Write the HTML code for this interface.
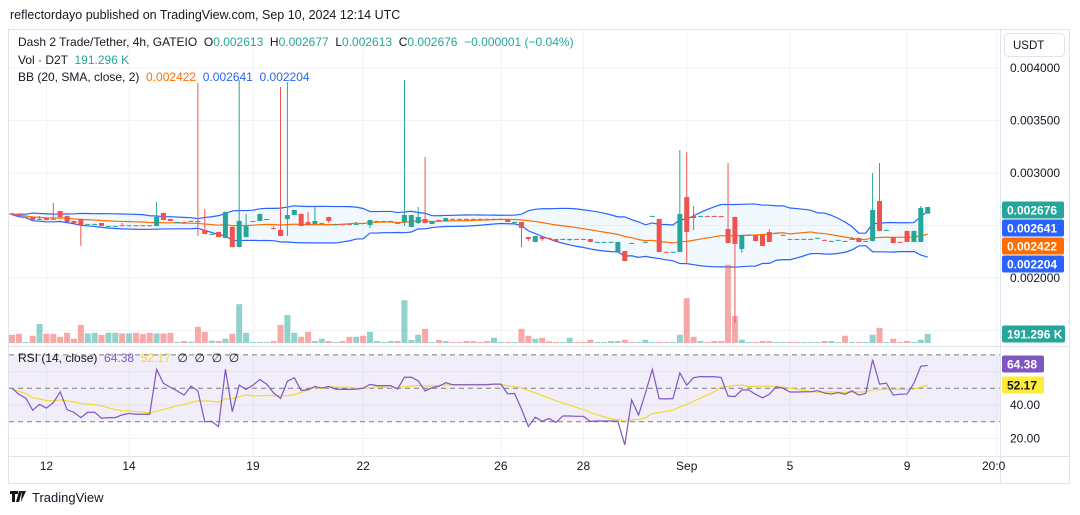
<!DOCTYPE html>
<html><head><meta charset="utf-8"><style>
html,body{margin:0;padding:0;background:#fff;width:1080px;height:515px;overflow:hidden}
svg{display:block;font-family:"Liberation Sans",sans-serif}
.pre{white-space:pre}
</style></head><body>
<svg id="chart" width="1080" height="515" viewBox="0 0 1080 515">
<rect x="0" y="0" width="1080" height="515" fill="#fff"/>
<text x="10" y="19" font-size="12.5" fill="#131722">reflectordayo published on TradingView.com, Sep 10, 2024 12:14 UTC</text>
<rect x="8.5" y="29.5" width="1061" height="454" fill="#fff" stroke="#e0e3eb"/>
<g id="grid"></g>
<g id="main"></g>
<g id="rsi"></g>
<line x1="1000.5" y1="30" x2="1000.5" y2="483" stroke="#e0e3eb"/>
<line x1="9" y1="346.5" x2="1069" y2="346.5" stroke="#e0e3eb"/>
<line x1="9" y1="456.5" x2="1069" y2="456.5" stroke="#e0e3eb"/>
<g id="axes" font-size="12" fill="#131722"></g>
<g font-size="12">
<text class="pre" x="18" y="46" fill="#131722">Dash 2 Trade/Tether, 4h, GATEIO  O<tspan fill="#26a69a">0.002613</tspan>  H<tspan fill="#26a69a">0.002677</tspan>  L<tspan fill="#26a69a">0.002613</tspan>  C<tspan fill="#26a69a">0.002676</tspan>  <tspan fill="#26a69a">−0.000001 (−0.04%)</tspan></text>
<text class="pre" x="18" y="64" fill="#131722">Vol · D2T  <tspan fill="#26a69a">191.296 K</tspan></text>
<text class="pre" x="18" y="81" fill="#131722">BB (20, SMA, close, 2)  <tspan fill="#ff6d00">0.002422</tspan>  <tspan fill="#2962ff">0.002641</tspan>  <tspan fill="#2962ff">0.002204</tspan></text>
<text class="pre" x="18" y="362" fill="#131722">RSI (14, close)  <tspan fill="#7e57c2">64.38</tspan>  <tspan fill="#f2d930">52.17</tspan>  ∅  ∅  ∅  ∅</text>
</g>
<g>
<rect x="1004.5" y="33.5" width="60" height="23" rx="4" fill="#fff" stroke="#e0e3eb"/>
<text x="1013" y="49" font-size="11.5" fill="#131722">USDT</text>
</g>
<g>
<path d="M10 491h8v3h-3v8h-3v-8h-2z M19 491h3l-3 11h-3z M22 491h4l-5 11z" fill="#131722"/>
<text x="32" y="502" font-size="13" fill="#131722">TradingView</text>
</g>
</svg>
<script>
// ---- data (prices in 1e-6 USDT) ----
const opens  = [2617,2610,2580,2581,2560,2571,2563,2638,2590,2543,2562,2513,2513,2524,2494,2494,2502,2500,2502,2502,2502,2495,2619,2562,2532,2533,2542,2543,2457,2418,2438,2381,2486,2295,2390,2541,2543,2560,2476,2457,2562,2600,2610,2533,2514,2523,2581,2513,2515,2515,2513,2524,2505,2541,2541,2541,2525,2533,2486,2524,2562,2514,2553,2543,2563,2563,2563,2563,2563,2563,2561,2561,2562,2532,2533,2390,2343,2390,2382,2371,2370,2370,2372,2372,2371,2342,2342,2342,2248,2257,2334,2199,2342,2589,2562,2249,2247,2248,2771,2590,2589,2591,2591,2590,2467,2581,2276,2409,2410,2410,2438,2428,2409,2372,2372,2370,2370,2380,2363,2351,2361,2353,2370,2381,2351,2352,2733,2456,2390,2344,2448,2343,2343,2613];
const highs  = [2620,2612,2583,2583,2590,2573,2714,2640,2592,2545,2565,2516,2516,2526,2497,2497,2524,2503,2503,2503,2503,2724,2621,2564,2535,2535,2545,3857,2657,2421,2440,2631,2488,3886,2610,2545,2612,2564,2495,3819,3867,2650,2612,2629,2676,2526,2583,2516,2517,2517,2533,2526,2555,2545,2545,2545,2533,3886,2602,2676,3152,2545,2556,2573,2566,2566,2566,2566,2566,2566,2565,2565,2564,2536,2535,2392,2402,2392,2384,2373,2374,2374,2374,2374,2373,2346,2346,2346,2345,2259,2336,2203,2346,2593,2564,2251,2251,3219,3200,2686,2593,2593,2593,2592,3095,2583,2412,2413,2412,2412,2467,2432,2413,2374,2374,2374,2374,2384,2365,2355,2365,2355,2390,2383,2355,3000,3095,2460,2392,2346,2450,2450,2686,2677];
const lows   = [2600,2588,2579,2550,2559,2550,2560,2579,2531,2522,2305,2511,2511,2493,2493,2493,2499,2499,2499,2499,2499,2493,2550,2541,2531,2522,2541,2400,2417,2417,2388,2379,2293,2293,2388,2540,2541,2559,2465,2398,2400,2598,2493,2503,2512,2522,2524,2512,2512,2512,2512,2521,2476,2540,2540,2540,2521,2495,2484,2514,2520,2512,2550,2541,2560,2560,2560,2560,2560,2560,2560,2560,2531,2531,2295,2352,2341,2355,2379,2350,2369,2352,2369,2369,2341,2341,2341,2341,2246,2160,2331,2198,2341,2588,2246,2246,2246,2246,2133,2457,2588,2588,2588,2579,2331,1571,2238,2408,2350,2303,2341,2427,2408,2369,2369,2369,2369,2379,2355,2350,2360,2350,2369,2341,2350,2350,2446,2455,2331,2341,2341,2341,2341,2613];
const closes = [2602,2590,2582,2552,2562,2552,2561,2581,2533,2524,2505,2515,2515,2495,2496,2496,2500,2502,2500,2500,2500,2581,2552,2543,2534,2524,2544,2533,2419,2420,2390,2629,2295,2543,2495,2543,2610,2562,2467,2400,2600,2648,2495,2505,2543,2525,2543,2515,2513,2513,2515,2522,2552,2543,2543,2543,2523,2600,2600,2581,2524,2543,2551,2571,2561,2561,2561,2561,2561,2561,2563,2563,2533,2534,2476,2371,2400,2371,2380,2352,2372,2372,2370,2370,2343,2344,2344,2344,2343,2162,2332,2201,2344,2591,2248,2247,2249,2610,2438,2571,2591,2589,2589,2581,2333,2324,2410,2411,2352,2305,2343,2430,2411,2370,2370,2372,2372,2382,2361,2353,2363,2351,2372,2343,2353,2648,2448,2458,2333,2342,2343,2448,2667,2676];
const volumes = [175,196,21,154,406,196,196,133,217,91,385,203,217,175,217,217,203,203,217,189,217,203,203,217,21,42,28,343,238,49,42,91,196,826,217,21,21,21,42,385,595,217,133,238,42,91,42,21,42,133,133,154,238,42,21,42,42,910,63,175,301,21,63,42,21,21,42,42,21,42,112,21,21,21,301,154,91,112,35,21,21,112,21,21,70,21,21,42,42,70,21,21,70,21,21,21,21,175,952,133,42,21,42,42,1666,574,70,21,21,42,42,21,21,21,21,21,21,21,42,42,21,154,21,21,21,175,322,21,91,21,42,21,70,191.296];
const priceTicks = [2000,3000,3500,4000];
const priceTickLabels = ["0.002000","0.003000","0.003500","0.004000"];
const rsiTicks = [20,40];
const rsiTickLabels = ["20.00","40.00"];
const timeTickIdx = [5,17,35,51,71,83,98,113,130];
const timeTickLabels = ["12","14","19","22","26","28","Sep","5","9"];

// ---- scales ----
const NS='http://www.w3.org/2000/svg';
function xOf(i){return 12+i*6.885;}
function yP(p){return 278-(p-2000)*0.105;}
function yV(v){return 343-v*0.047;}
function yR(r){return 388.3-(r-50)*1.67;}
function mk(tag,attrs,parent){const e=document.createElementNS(NS,tag);for(const k in attrs)e.setAttribute(k,attrs[k]);parent.appendChild(e);return e;}
const G=document.getElementById('grid'),M=document.getElementById('main'),R=document.getElementById('rsi'),A=document.getElementById('axes');
const N=closes.length;

// grid
[2000,2500,3000,3500,4000,1500].forEach(p=>{const l=mk('line',{x1:9,x2:1000,y1:yP(p),y2:yP(p),stroke:'#f0f3fa'},G);

});
[60,40,20].forEach(r=>{const l=mk('line',{x1:9,x2:1000,y1:yR(r),y2:yR(r),stroke:'#f0f3fa'},G);

});
timeTickIdx.concat([N+9]).forEach(i=>{const l=mk('line',{x1:xOf(i),x2:xOf(i),y1:30,y2:456,stroke:'#f0f3fa'},G);

});

// bollinger
const basis=[],up=[],lo=[];
for(let i=0;i<N;i++){const w=closes.slice(Math.max(0,i-19),i+1);const m=w.reduce((a,b)=>a+b,0)/w.length;
const sd=Math.sqrt(w.reduce((a,b)=>a+(b-m)*(b-m),0)/w.length);basis.push(m);up.push(m+2*sd);lo.push(m-2*sd);}
let fillD='M'+up.map((v,i)=>xOf(i)+','+yP(v)).join(' L')+' L'+lo.map((v,i)=>xOf(i)+','+yP(v)).reverse().join(' L')+'Z';
const bf=mk('path',{d:fillD,fill:'rgba(33,150,243,0.06)'},M);


function line(arr,col,name,yf,par){const p=mk('path',{d:'M'+arr.map((v,i)=>v==null?null:xOf(i)+','+yf(v)).filter(s=>s).join(' L'),fill:'none',stroke:col,'stroke-width':1.2},par);

return p;}
line(up,'#2962ff','bb-upper',yP,M);line(lo,'#2962ff','bb-lower',yP,M);line(basis,'#ff6d00','bb-basis',yP,M);

// volume
for(let i=0;i<N;i++){const g=closes[i]>=opens[i];
const b=mk('rect',{x:xOf(i)-3,y:yV(volumes[i]),width:6,height:343-yV(volumes[i]),fill:g?'rgba(38,166,154,0.5)':'rgba(239,83,80,0.5)'},M);

}

// candles
for(let i=0;i<N;i++){const g=closes[i]>=opens[i],c=g?'#26a69a':'#ef5350',x=xOf(i);
const w=mk('line',{x1:x,x2:x,y1:yP(highs[i]),y2:yP(lows[i]),stroke:c,'stroke-width':1},M);


const t=Math.min(yP(opens[i]),yP(closes[i])),h=Math.max(1,Math.abs(yP(opens[i])-yP(closes[i])));
const b=mk('rect',{x:x-2.5,y:t,width:5,height:h,fill:c},M);

}

// rsi
const rsiBand=mk('rect',{x:9,y:yR(70),width:991,height:yR(30)-yR(70),fill:'rgba(126,87,194,0.1)'},R);


[70,50,30].forEach(r=>{const l=mk('line',{x1:9,x2:1000,y1:yR(r),y2:yR(r),stroke:'#787b86','stroke-dasharray':'5,4','stroke-width':1},R);

});
const rsi=[];let ag=6,al=6;rsi.push(50);
for(let i=1;i<N;i++){const d=closes[i]-closes[i-1];ag=(ag*13+Math.max(d,0))/14;al=(al*13+Math.max(-d,0))/14;rsi.push(al===0?100:100-100/(1+ag/al));}
const rsiMa=rsi.map((v,i)=>{const w=rsi.slice(Math.max(0,i-13),i+1);return w.reduce((a,b)=>a+b,0)/w.length;});
line(rsiMa,'#f2d930','rsi-ma-line',yR,R);line(rsi,'#7e57c2','rsi-line',yR,R);

// axes labels
priceTicks.forEach((p,k)=>{const t=mk('text',{x:1010,y:yP(p)+4},A);t.textContent=priceTickLabels[k];

});
rsiTicks.forEach((r,k)=>{const t=mk('text',{x:1010,y:yR(r)+4},A);t.textContent=rsiTickLabels[k];

});
timeTickIdx.forEach((i,k)=>{const t=mk('text',{x:xOf(i),y:470,'text-anchor':'middle'},A);t.textContent=timeTickLabels[k];

});
const t20=mk('text',{x:982,y:470},A);t20.textContent='20:0';



// value tags
function tag(y,txt,bg,fg,w,name){const g=mk('g',{},A);


mk('rect',{x:1002,y:y-8.5,width:w,height:17,rx:2,fill:bg},g);const t=mk('text',{x:1007,y:y+4.5,fill:fg,'font-weight':'bold'},g);t.textContent=txt;}
tag(210,'0.002676','#26a69a','#fff',62,'last-price-tag');
tag(228,'0.002641','#2962ff','#fff',62,'bb-upper-tag');
tag(246,'0.002422','#ff6d00','#fff',62,'bb-basis-tag');
tag(264,'0.002204','#2962ff','#fff',62,'bb-lower-tag');
tag(334,'191.296 K','#26a69a','#fff',63,'volume-tag');
tag(364,'64.38','#7e57c2','#fff',42,'rsi-value-tag');
tag(385,'52.17','#ffeb3b','#131722',42,'rsi-ma-tag');
</script>
</body></html>
